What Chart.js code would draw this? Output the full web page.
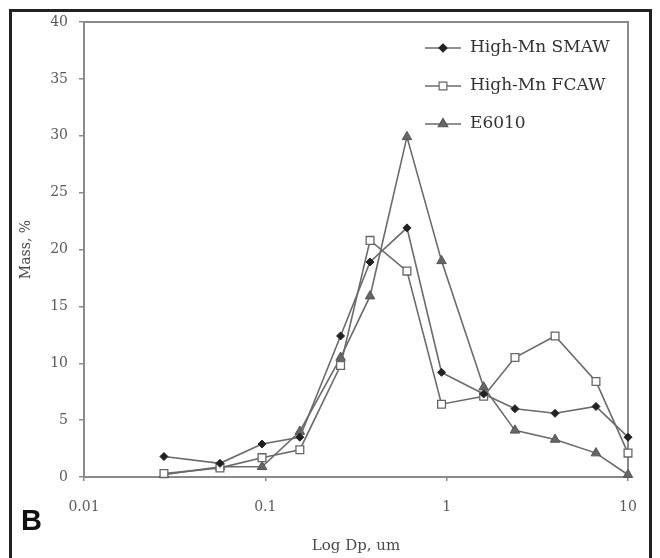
<!DOCTYPE html>
<html>
<head>
<meta charset="utf-8">
<script src="https://cdn.jsdelivr.net/npm/chart.js@4.4.0/dist/chart.umd.min.js"></script>
<style>
  html, body { margin: 0; padding: 0; background: #fff; overflow: hidden; }
  #wrap { position: relative; width: 660px; height: 558px; }
  #frame { position: absolute; left: 9px; top: 9px; width: 637px; height: 600px; border: 3px solid #222; pointer-events: none; }
</style>
</head>
<body>
<div id="wrap">
  <canvas id="myChart" width="660" height="558"></canvas>
  <div id="frame"></div>
</div>
<script>
// particle size (um) and mass fraction (%)
const sizes = [0.0276, 0.0562, 0.0959, 0.155, 0.26, 0.378, 0.604, 0.937, 1.6, 2.38, 3.96, 6.66, 10];
const smaw  = [1.8, 1.2, 2.9, 3.5, 12.4, 18.9, 21.9, 9.2, 7.3, 6.0, 5.6, 6.2, 3.5];
const fcaw  = [0.3, 0.8, 1.7, 2.4, 9.8, 20.8, 18.1, 6.4, 7.1, 10.5, 12.4, 8.4, 2.1];
const e6010 = [0.2, 0.9, 0.9, 4.0, 10.5, 15.9, 29.9, 19.0, 7.9, 4.1, 3.3, 2.1, 0.2];
const seriesNames = ['High-Mn SMAW', 'High-Mn FCAW', 'E6010'];
const xTicks = [0.01, 0.1, 1, 10];

const serif = '"DejaVu Serif", "Liberation Serif", serif';
const axisGray = '#8a8a8a';

function pts(ys) {
  return sizes.map((x, i) => ({ x: x, y: ys[i] }));
}

// legend inside the plot, plus the plot box and the panel letter
const extras = {
  id: 'extras',
  beforeDatasetsDraw(chart) {
    const { ctx, chartArea: a } = chart;
    ctx.save();
    ctx.strokeStyle = axisGray;
    ctx.lineWidth = 2;
    ctx.beginPath();
    ctx.moveTo(a.left, a.top);
    ctx.lineTo(a.right, a.top);
    ctx.lineTo(a.right, a.bottom);
    ctx.stroke();
    ctx.restore();
  },
  afterDraw(chart) {
    const { ctx, chartArea: a } = chart;
    ctx.save();
    chart.data.datasets.forEach((ds, i) => {
      const y = a.top + 26 + i * 38;
      const x0 = a.right - 203;
      ctx.strokeStyle = ds.borderColor;
      ctx.lineWidth = 1.6;
      ctx.beginPath();
      ctx.moveTo(x0, y);
      ctx.lineTo(x0 + 36, y);
      ctx.stroke();
      ctx.fillStyle = ds.pointBackgroundColor;
      ctx.strokeStyle = ds.pointBorderColor;
      ctx.lineWidth = 1.2;
      Chart.helpers.drawPoint(ctx, {
        pointStyle: ds.pointStyle,
        radius: ds.pointRadius,
        borderWidth: 1.2,
        rotation: 0
      }, x0 + 18, y);
      ctx.fillStyle = '#333';
      ctx.font = '17px ' + serif;
      ctx.textBaseline = 'middle';
      ctx.textAlign = 'left';
      ctx.fillText(ds.label, x0 + 45, y);
    });
    ctx.fillStyle = '#111';
    ctx.font = 'bold 29px "Liberation Sans", Arial, sans-serif';
    ctx.textBaseline = 'alphabetic';
    ctx.fillText('B', 21, 530);
    ctx.restore();
  }
};

const ctx = document.getElementById('myChart').getContext('2d');
const myChart = new Chart(ctx, {
  type: 'line',
  data: {
    datasets: [
      {
        label: seriesNames[0],
        data: pts(smaw),
        borderColor: '#6a6a6a',
        borderWidth: 1.6,
        pointStyle: 'rectRot',
        pointRadius: 4,
        pointBackgroundColor: '#222',
        pointBorderColor: '#222',
        pointBorderWidth: 1,
        tension: 0,
        clip: false
      },
      {
        label: seriesNames[1],
        data: pts(fcaw),
        borderColor: '#6a6a6a',
        borderWidth: 1.6,
        pointStyle: 'rect',
        pointRadius: 5.5,
        pointBackgroundColor: '#fff',
        pointBorderColor: '#666',
        pointBorderWidth: 1.3,
        tension: 0,
        clip: false
      },
      {
        label: seriesNames[2],
        data: pts(e6010),
        borderColor: '#6a6a6a',
        borderWidth: 1.6,
        pointStyle: 'triangle',
        pointRadius: 5.5,
        pointBackgroundColor: '#666',
        pointBorderColor: '#555',
        pointBorderWidth: 1,
        tension: 0,
        clip: false
      }
    ]
  },
  options: {
    responsive: false,
    animation: false,
    devicePixelRatio: 1,
    layout: { padding: { left: 0, top: 22, right: 32, bottom: 0 } },
    plugins: {
      legend: { display: false },
      tooltip: { enabled: false }
    },
    scales: {
      x: {
        type: 'logarithmic',
        min: 0.01,
        max: 10,
        afterBuildTicks: (scale) => { scale.ticks = xTicks.map(v => ({ value: v })); },
        afterFit: (scale) => { scale.height = 81; },
        grid: { drawOnChartArea: false, drawTicks: true, tickLength: 4, color: axisGray, lineWidth: 1.5 },
        border: { display: true, color: axisGray, width: 2 },
        ticks: {
          color: '#5a5a5a',
          font: { family: serif, size: 14 },
          padding: 18,
          maxRotation: 0,
          autoSkip: false,
          callback: (v) => String(v)
        },
        title: {
          display: true,
          text: 'Log Dp, um',
          color: '#4a4a4a',
          font: { family: serif, size: 15 },
          padding: { top: 0, bottom: 3 }
        }
      },
      y: {
        min: 0,
        max: 40,
        afterFit: (scale) => { scale.width = 84; },
        grid: { drawOnChartArea: false, drawTicks: true, tickLength: 5, color: axisGray, lineWidth: 1.5 },
        border: { display: true, color: axisGray, width: 2 },
        ticks: {
          stepSize: 5,
          color: '#5a5a5a',
          font: { family: serif, size: 14 },
          padding: 11
        },
        title: {
          display: true,
          text: 'Mass, %',
          color: '#4a4a4a',
          font: { family: serif, size: 14 },
          padding: { top: 18, bottom: 0 }
        }
      }
    }
  },
  plugins: [extras]
});
</script>
</body>
</html>
